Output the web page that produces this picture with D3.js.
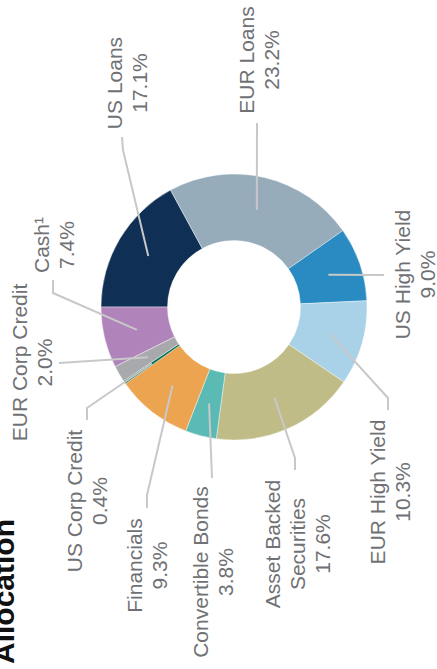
<!DOCTYPE html>
<html>
<head>
<meta charset="utf-8">
<script src="https://cdn.jsdelivr.net/npm/d3@7"></script>
<style>
  html, body { margin: 0; padding: 0; background: #fff; overflow: hidden; }
  svg { display: block; }
</style>
</head>
<body>
<div id="chart"></div>
<script>
// Portfolio allocation by asset class (percent of fund)
const categories = [
  "US Loans", "EUR Loans", "US High Yield", "EUR High Yield",
  "Asset Backed Securities", "Convertible Bonds", "Financials",
  "US Corp Credit", "EUR Corp Credit", "Cash¹"
];
const weights = [17.1, 23.2, 9.0, 10.3, 17.6, 3.8, 9.3, 0.4, 2.0, 7.4];
const weightLabels = ["17.1%", "23.2%", "9.0%", "10.3%", "17.6%", "3.8%", "9.3%", "0.4%", "2.0%", "7.4%"];
// How each category name wraps onto lines
const nameLines = [
  ["US Loans"], ["EUR Loans"], ["US High Yield"], ["EUR High Yield"],
  ["Asset Backed", "Securities"], ["Convertible Bonds"], ["Financials"],
  ["US Corp Credit"], ["EUR Corp Credit"], ["Cash¹"]
];
const sliceColors = [
  "#0f3054", "#97acbb", "#2a8bc2", "#a9d2e8", "#bfbc88",
  "#5cbab5", "#eda451", "#006b4f", "#a7a9ac", "#b083ba"
];

// Chart frame (landscape) is drawn turned a quarter turn into the portrait page
const pageW = 437, pageH = 669;
const cx = 362, cy = 234;
const rOuter = 133, rInner = 66.5;
const lineH = 25;

// Label anchor and leader-line bend points, in frame coordinates
const labelLayout = [
  { x: 586,   y: 122, leader: [[519, 123], [532, 122]] },
  { x: 609,   y: 254, leader: [[546, 257]] },
  { x: 394.5, y: 410, leader: [[394, 384]] },
  { x: 177,   y: 385, leader: [[271, 388], [259, 388]] },
  { x: 125,   y: 280, leader: [[211, 295], [199, 295]] },
  { x: 97,    y: 208, leader: [[191, 212]] },
  { x: 103.5, y: 142, leader: [[174, 147], [161, 147]] },
  { x: 168,   y: 82,  leader: [[261, 87], [249, 87]] },
  { x: 306.5, y: 27,  leader: [[306, 59]] },
  { x: 424,   y: 49,  leader: [[376, 53], [389, 53]] }
];

const svg = d3.select("#chart").append("svg")
  .attr("width", pageW)
  .attr("height", pageH);

const frame = svg.append("g")
  .attr("transform", `translate(0,${pageH}) rotate(-90)`);

// Title
frame.append("text")
  .attr("x", 5)
  .attr("y", 14)
  .attr("font-family", "'Liberation Sans', Arial, sans-serif")
  .attr("font-weight", "bold")
  .attr("font-size", 30)
  .attr("fill", "#111")
  .text("Allocation");

const pie = d3.pie().sort(null).value(d => d)
  .startAngle(0).endAngle(2 * Math.PI);
const arcs = pie(weights);

const arc = d3.arc().innerRadius(rInner).outerRadius(rOuter);

const donut = frame.append("g").attr("transform", `translate(${cx},${cy})`);

donut.selectAll("path.slice")
  .data(arcs)
  .join("path")
  .attr("class", "slice")
  .attr("d", arc)
  .attr("fill", (d, i) => sliceColors[i])
  .attr("stroke", "#fff")
  .attr("stroke-width", 0.4);

// Leader lines: start at each slice centroid, then run to the label
const line = d3.line();
frame.append("g").selectAll("path.leader")
  .data(arcs)
  .join("path")
  .attr("class", "leader")
  .attr("d", (d, i) => {
    const c = arc.centroid(d);
    const pts = [[c[0] + cx, c[1] + cy], ...labelLayout[i].leader];
    return line(pts);
  })
  .attr("fill", "none")
  .attr("stroke", "#c8c8c8")
  .attr("stroke-width", 2);

// Labels
const labels = frame.append("g")
  .attr("font-family", "'Liberation Sans', Arial, sans-serif")
  .attr("font-size", 21)
  .attr("fill", "#707174")
  .attr("text-anchor", "middle");

categories.forEach((name, i) => {
  const lay = labelLayout[i];
  const rows = [...nameLines[i], weightLabels[i]];
  const t = labels.append("text").attr("x", lay.x).attr("y", lay.y);
  rows.forEach((r, j) => {
    t.append("tspan")
      .attr("x", lay.x)
      .attr("y", lay.y + j * lineH)
      .text(r);
  });
});
</script>
</body>
</html>
